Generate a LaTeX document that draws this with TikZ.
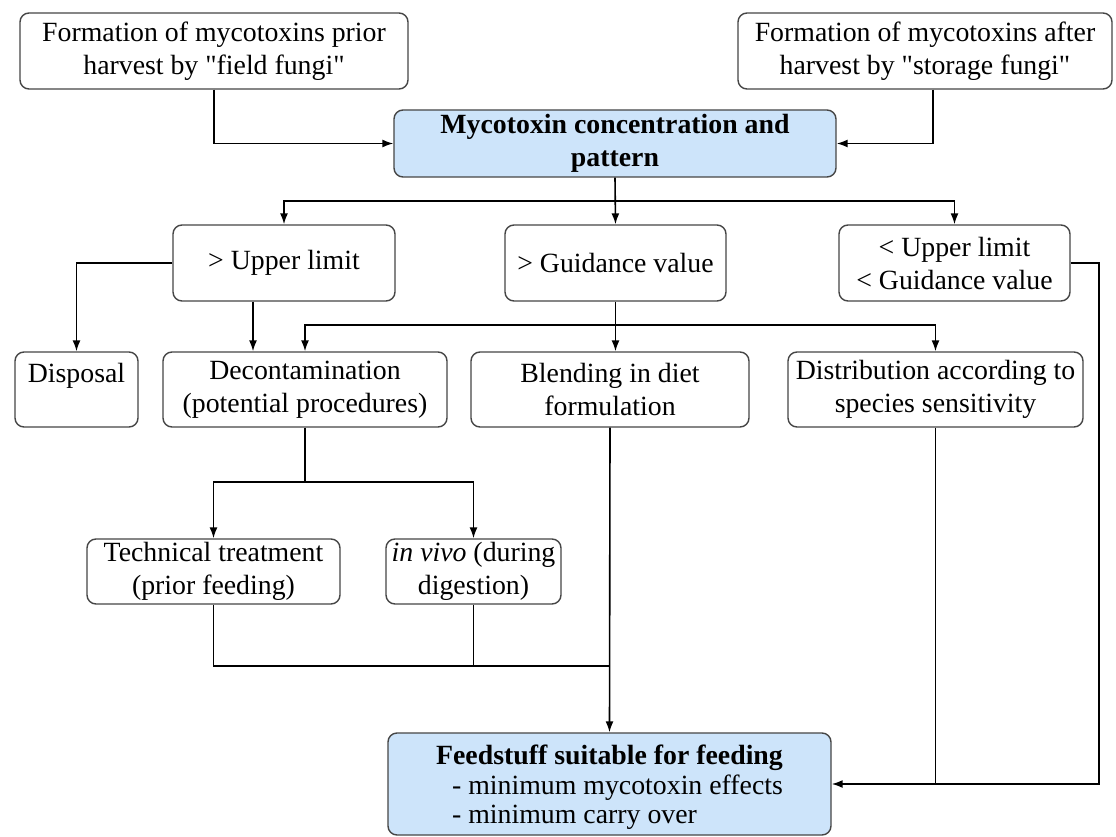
\documentclass[tikz,border=0pt]{standalone}
\usepackage{fontspec}
\setmainfont{Liberation Serif}[Ligatures=TeXOff]
\usetikzlibrary{arrows.meta}
\definecolor{boxblue}{RGB}{205,228,250}
\definecolor{edgegray}{RGB}{70,70,70}
\begin{document}
\begin{tikzpicture}[x=1pt,y=-1pt,
  box/.style={draw=edgegray, line width=1.4pt, rounded corners=9pt, align=center, inner sep=2pt, font=\fontsize{27.8}{33}\selectfont},
  bluebox/.style={box, fill=boxblue},
  arr/.style={line width=1.6pt, -{Latex[length=11pt,width=8pt]}},
  ln/.style={line width=1.6pt}]
\useasboundingbox (0,0) rectangle (1116,837);
\fill[white] (0,0) rectangle (1116,837);

% top row
\node[box, minimum width=388pt, minimum height=76pt] (b1) at (214,51) {Formation of mycotoxins prior\\harvest by "field fungi"};
\node[box, minimum width=374pt, minimum height=76pt] (b2) at (925,51) {Formation of mycotoxins after\\harvest by "storage fungi"};
\node[bluebox, minimum width=442pt, minimum height=67pt] (mc) at (615,143.5) {\textbf{Mycotoxin concentration and}\\\textbf{pattern}};

% second row
\node[box, minimum width=222pt, minimum height=76pt] (ul) at (284,263) {> Upper limit};
\node[box, minimum width=221pt, minimum height=76pt] (gv) at (615.5,263) {> Guidance value};
\node[box, minimum width=231pt, minimum height=76pt] (lt) at (954.5,263) {< Upper limit\\< Guidance value};

% third row
\node[box, minimum width=123pt, minimum height=75pt] (dp) at (76.5,389.5) {Disposal\\\mbox{}};
\node[box, minimum width=284pt, minimum height=75pt] (dc) at (305,389.5) {Decontamination\\(potential procedures)};
\node[box, minimum width=278pt, minimum height=75pt] (bl) at (610,389.5) {Blending in diet\\formulation};
\node[box, minimum width=295pt, minimum height=75pt] (ds) at (935.5,389.5) {Distribution according to\\species sensitivity};

% fourth row
\node[box, minimum width=253pt, minimum height=65pt] (tt) at (213.5,571.5) {Technical treatment\\(prior feeding)};
\node[box, minimum width=175pt, minimum height=65pt] (iv) at (473.5,571.5) {\textit{in vivo} (during\\digestion)};

% bottom
\node[bluebox, minimum width=443pt, minimum height=102pt, align=left] (fs) at (609.5,784) {\rule{0pt}{26pt}\textbf{Feedstuff suitable for feeding}\\[-3pt]\hspace*{16pt}- minimum mycotoxin effects\\[-4pt]\hspace*{16pt}- minimum carry over};

% junctions
\coordinate (j1) at (615,201);
\coordinate (j2) at (615,325);
\coordinate (j3) at (305,482);
\coordinate (j4) at (610,666);
\coordinate (rc) at (1099,263);

% connectors
\draw[arr] (b1.south) |- (mc.west);
\draw[arr] ([xshift=8pt]b2.south) |- (mc.east);
\draw[arr] (mc.south) -- (gv.north);
\draw[arr] (j1) -| (ul.north);
\draw[arr] (j1) -| (lt.north);
\draw[arr] (ul.west) -| (dp.north);
\draw[arr] ([xshift=-31pt]ul.south) -- ([xshift=-31pt]ul.south |- dc.north);
\draw[arr] (gv.south) -- (gv.south |- bl.north);
\draw[arr] (j2) -| (dc.north);
\draw[arr] (j2) -| (ds.north);
\draw[ln] (dc.south) -- (j3);
\draw[arr] (j3) -| (tt.north);
\draw[arr] (j3) -| (iv.north);
\draw[ln] (tt.south) |- (j4);
\draw[ln] (iv.south) -- (iv.south |- j4);
\draw[arr] (bl.south) -- (fs.north);
\draw[ln] (ds.south) -- (ds.south |- fs.east);
\draw[arr] (lt.east) -- (rc) |- (fs.east);
\end{tikzpicture}
\end{document}
